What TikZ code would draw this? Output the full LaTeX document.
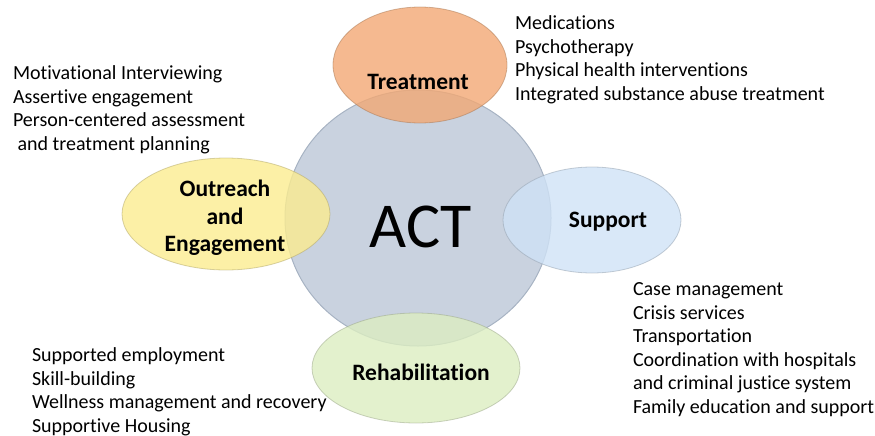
\documentclass[tikz,border=0pt]{standalone}
\usepackage{fontspec}
\setmainfont{Carlito}[Ligatures=NoCommon]
\usetikzlibrary{shapes.geometric,positioning}

\definecolor{actfill}{HTML}{C9D2DF}
\definecolor{actedge}{HTML}{A7B3C3}
\definecolor{treatcol}{HTML}{F2A874}
\definecolor{outcol}{HTML}{FBEC90}
\definecolor{suppcol}{HTML}{CFE2F6}
\definecolor{rehabcol}{HTML}{DCEDC1}

\begin{document}
\begin{tikzpicture}[x=1pt,y=-1pt,
  every node/.style={inner sep=0pt,outer sep=0pt},
  area/.style={ellipse,draw=#1!70!black,fill=#1,fill opacity=0.8,draw opacity=0.5,line width=0.8pt},
  lbl/.style={align=center,font=\fontsize{23.5}{27.5}\selectfont\bfseries},
  items/.style={align=left,anchor=base west,font=\fontsize{20}{23.5}\selectfont}]
\useasboundingbox (0,0) rectangle (875,436);

\node[ellipse,draw=actedge,fill=actfill,line width=1pt,minimum width=266,minimum height=256] (act) at (418,218) {};
\node[font=\fontsize{64}{64}\selectfont] (acttext) at (421,227) {ACT};

\node[area=treatcol,minimum width=174,minimum height=116] (treat) at (420,65) {};
\node[area=outcol,minimum width=208,minimum height=112] (out) at (226,214) {};
\node[area=suppcol,minimum width=178,minimum height=106] (supp) at (592,220) {};
\node[area=rehabcol,minimum width=208,minimum height=110] (rehab) at (416,368) {};

\node[lbl] (treatlbl) at (418,82) {Treatment};
\node[lbl] (outlbl) at (225,218) {Outreach\\and\\Engagement};
\node[lbl] (supplbl) at (608,222) {Support};
\node[lbl] (rehablbl) at (421,372) {Rehabilitation};

% anchored at the baseline of the last line
\node[items] (treatlist) at (515,100) {Medications\\Psychotherapy\\Physical health interventions\\Integrated substance abuse treatment};
\node[items] (outlist) at (13,150) {Motivational Interviewing\\Assertive engagement\\Person-centered assessment\\\ and treatment planning};
\node[items] (supplist) at (633,413) {Case management\\Crisis services\\Transportation\\Coordination with hospitals\\and criminal justice system\\Family education and support};
\node[items] (rehablist) at (32,432) {Supported employment\\Skill-building\\Wellness management and recovery\\Supportive Housing};
\end{tikzpicture}
\end{document}
